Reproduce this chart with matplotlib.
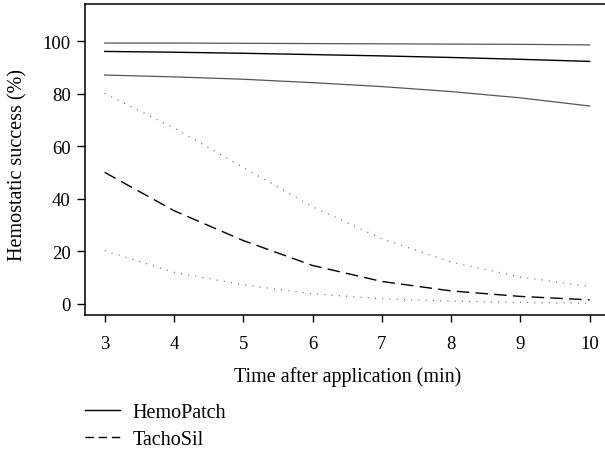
import matplotlib.pyplot as plt
from matplotlib.lines import Line2D

# minutes after application
minutes = [3, 4, 5, 6, 7, 8, 9, 10]

# HemoPatch fitted curve and confidence band (%)
hemo_fit = [96.2, 95.9, 95.5, 95.0, 94.5, 93.9, 93.2, 92.4]
hemo_upper = [99.4, 99.4, 99.3, 99.2, 99.1, 99.0, 98.9, 98.7]
hemo_lower = [87.2, 86.5, 85.6, 84.3, 82.8, 80.9, 78.5, 75.4]

# TachoSil fitted curve and confidence band (%)
tacho_fit = [50.1, 35.5, 24.1, 14.6, 8.5, 4.9, 2.8, 1.5]
tacho_upper = [80.2, 67.0, 52.0, 37.0, 24.8, 15.9, 10.2, 6.6]
tacho_lower = [20.3, 12.0, 7.2, 3.8, 1.9, 1.0, 0.5, 0.2]

legend_labels = ["HemoPatch", "TachoSil"]

plt.rcParams['font.family'] = ['Liberation Serif', 'DejaVu Serif']

fig = plt.figure(figsize=(6.05, 4.52), dpi=100)
# axes box runs slightly past the right edge, like the source
ax = fig.add_axes([85.3 / 605, 1 - 316.3 / 452, (609 - 85.3) / 605, (316.3 - 4.7) / 452])

gray = "#555555"
dotgray = "#666666"
ax.plot(minutes, hemo_upper, color=gray, lw=0.9)
ax.plot(minutes, hemo_fit, color="black", lw=1.0)
ax.plot(minutes, hemo_lower, color=gray, lw=0.9)

ax.plot(minutes, tacho_upper, color=dotgray, lw=0.9, linestyle=(0, (0.8, 5)))
ax.plot(minutes, tacho_fit, color="black", lw=1.0, linestyle=(0, (9, 4.5)))
ax.plot(minutes, tacho_lower, color=dotgray, lw=0.9, linestyle=(0, (0.8, 5)))

ax.set_xlim(2.72, 10.28)
ax.set_ylim(-4.4, 114.4)
ax.set_xticks(minutes)
ax.set_yticks([0, 20, 40, 60, 80, 100])
ax.tick_params(direction="out", length=5, width=1, labelsize=13.5)
ax.tick_params(axis="y", pad=5, length=5.5)
ax.tick_params(axis="x", pad=9)
for s in ax.spines.values():
    s.set_linewidth(1.1)

ax.set_xlabel("Time after application (min)", fontsize=14.5)
ax.set_ylabel("Hemostatic success (%)", fontsize=14.5)
ax.xaxis.set_label_coords(0.5, -0.162)
ax.yaxis.set_label_coords(-0.111, 0.485)

handles = [
    Line2D([], [], color="black", lw=1.0),
    Line2D([], [], color="black", lw=1.0, linestyle=(0, (6, 3.5))),
]
fig.legend(handles, legend_labels, loc="upper left", bbox_to_anchor=(85 / 605, 1 - 404 / 452),
           frameon=False, fontsize=14.5, handlelength=1.74, handletextpad=0.62, labelspacing=0.4,
           borderaxespad=0, borderpad=0)

fig.savefig("out.png", dpi=100)
